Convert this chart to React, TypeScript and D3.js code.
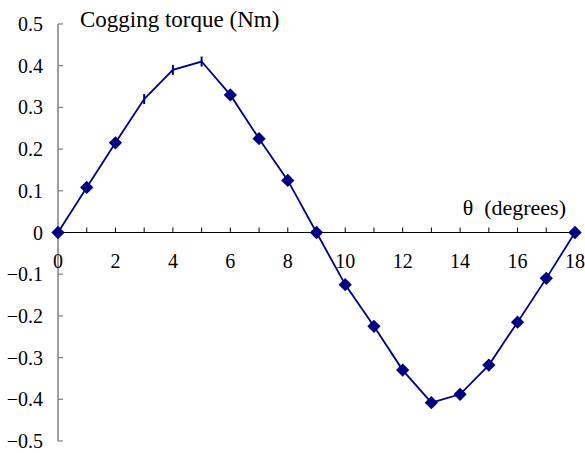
import React from "react";
import * as d3 from "d3";

// angle (degrees) and cogging torque (Nm)
const angles = [0, 1, 2, 3, 4, 5, 6, 7, 8, 9, 10, 11, 12, 13, 14, 15, 16, 17, 18];
const torque = [0, 0.108, 0.215, 0.32, 0.39, 0.41, 0.33, 0.225, 0.125, 0, -0.125, -0.225, -0.33, -0.408, -0.388, -0.318, -0.215, -0.11, 0];
// points drawn with a vertical dash instead of a diamond
const dashPoints = [3, 4, 5];
const dashHalf = 0.012;

const yTicks = [-0.5, -0.4, -0.3, -0.2, -0.1, 0, 0.1, 0.2, 0.3, 0.4, 0.5];
const xTicks = d3.range(0, 19, 1);
const xLabels = [0, 2, 4, 6, 8, 10, 12, 14, 16, 18];

const W = 585;
const H = 453;
const txt = { fontFamily: "Liberation Serif" };
const navy = "#000080";

const App = () => {
  const x = d3.scaleLinear().domain([0, 18]).range([58, 575]);
  const y = d3.scaleLinear().domain([-0.5, 0.5]).range([441, 24]);

  const pts = angles.map((a, i) => [a, torque[i]] as [number, number]);
  const line = d3.line<[number, number]>().x(d => x(d[0])).y(d => y(d[1]));
  const diamond = d3.symbol().type(d3.symbolSquare).size(88)();

  return (
    <svg width={W} height={H} style={{ position: "absolute", left: 0, top: 0, background: "#fff" }}>
      {/* y axis, ticks pointing inward */}
      <line x1={x(0)} x2={x(0)} y1={y(0.5)} y2={y(-0.5)} stroke="#808080" strokeWidth={1.5} />
      {yTicks.map(t => (
        <g key={"y" + t}>
          <line x1={x(0)} x2={x(0) + 5} y1={y(t)} y2={y(t)} stroke="#808080" strokeWidth={1.2} />
          <text x={43} y={y(t)} dy="0.35em" textAnchor="end" style={txt} fontSize={20} fill="#000">
            {t === 0 ? "0" : d3.format(".1f")(t)}
          </text>
        </g>
      ))}
      {/* x axis */}
      <line x1={x(0)} x2={x(18)} y1={y(0)} y2={y(0)} stroke="#000" strokeWidth={1.2} />
      {xTicks.map(t => (
        <line key={"x" + t} x1={x(t)} x2={x(t)} y1={y(0) - 5} y2={y(0)} stroke="#000" strokeWidth={1} />
      ))}
      {xLabels.map(t => (
        <text key={"xl" + t} x={x(t)} y={268} textAnchor="middle" style={txt} fontSize={20} fill="#000">
          {t}
        </text>
      ))}
      <text x={80} y={27} style={txt} fontSize={23} fill="#000">Cogging torque (Nm)</text>
      <text x={566} y={215} textAnchor="end" style={txt} fontSize={22} fill="#000" xmlSpace="preserve">
        θ  (degrees)
      </text>
      <path d={line(pts) || ""} fill="none" stroke={navy} strokeWidth={1.8} />
      {pts.map(([a, v]) =>
        dashPoints.includes(a) ? (
          <line key={"m" + a} x1={x(a)} x2={x(a)} y1={y(v + dashHalf)} y2={y(v - dashHalf)} stroke={navy} strokeWidth={2} />
        ) : (
          <path key={"m" + a} d={diamond || ""} transform={`translate(${x(a)},${y(v)}) rotate(45)`} fill={navy} />
        )
      )}
    </svg>
  );
};

export default App;
